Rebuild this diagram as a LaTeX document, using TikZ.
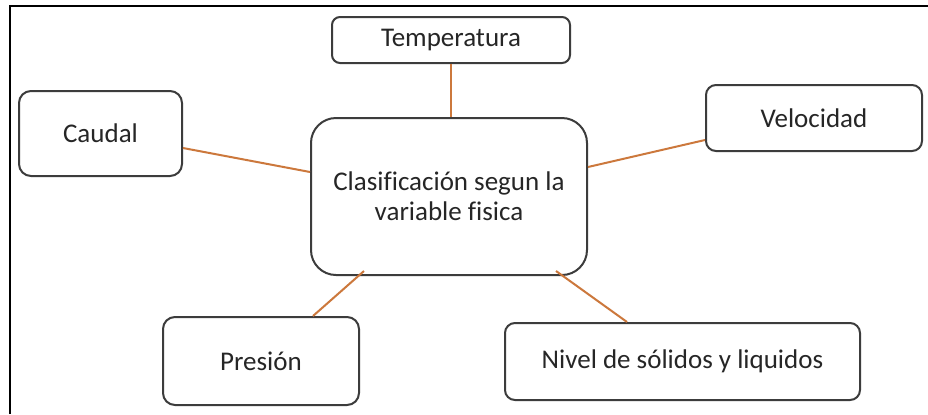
\documentclass[tikz,border=0pt]{standalone}
\usepackage{fontspec}
\setmainfont{Carlito}[Ligatures={NoCommon}]
\definecolor{conn}{RGB}{204,120,60}
\definecolor{boxline}{RGB}{60,60,60}
\definecolor{txt}{RGB}{38,38,38}
\begin{document}
\begin{tikzpicture}[x=0.5pt,y=-0.5pt,
  box/.style={draw=boxline,line width=1pt,rectangle,inner sep=0pt,align=center,
    text=txt,font=\fontsize{13.5}{15}\selectfont},
  link/.style={draw=conn,line width=1pt}]
\useasboundingbox (0,0) rectangle (928,414);
\fill[white] (0,0) rectangle (928,414);
% outer frame (left and top edges visible)
\draw[black,line width=1pt] (10,414) -- (10,6) -- (928,6);
% nodes
\node[box,minimum width=119pt,minimum height=23pt,rounded corners=4pt] (temp) at (451,40) {Temperatura};
\node[box,minimum width=81.5pt,minimum height=42.5pt,rounded corners=6pt] (caudal) at (100.5,133.5) {Caudal};
\node[box,minimum width=138pt,minimum height=78.5pt,rounded corners=12.5pt] (center) at (449,196.5) {Clasificación segun la\\variable fisica};
\node[box,minimum width=108pt,minimum height=33pt,rounded corners=5pt] (vel) at (814,118) {Velocidad};
\node[box,minimum width=98pt,minimum height=44pt,rounded corners=6pt] (pres) at (261,361) {Presión};
\node[box,minimum width=177.5pt,minimum height=38.5pt,rounded corners=5pt] (nivel) at (682.5,361.5) {Nivel de sólidos y liquidos};
% connectors
\draw[link] (temp.south) -- (temp.south |- center.north);
\draw[link] ([yshift=-7.25pt]caudal.east) -- ([yshift=12.25pt]center.west);
\draw[link] ([yshift=-11pt]vel.west) -- ([yshift=14.75pt]center.east);
\draw[link] ([xshift=26pt]pres.north) -- ([xshift=-42.5pt,yshift=2.5pt]center.south);
\draw[link] ([xshift=-27.75pt]nivel.north) -- ([xshift=53.5pt,yshift=2.5pt]center.south);
\end{tikzpicture}
\end{document}
